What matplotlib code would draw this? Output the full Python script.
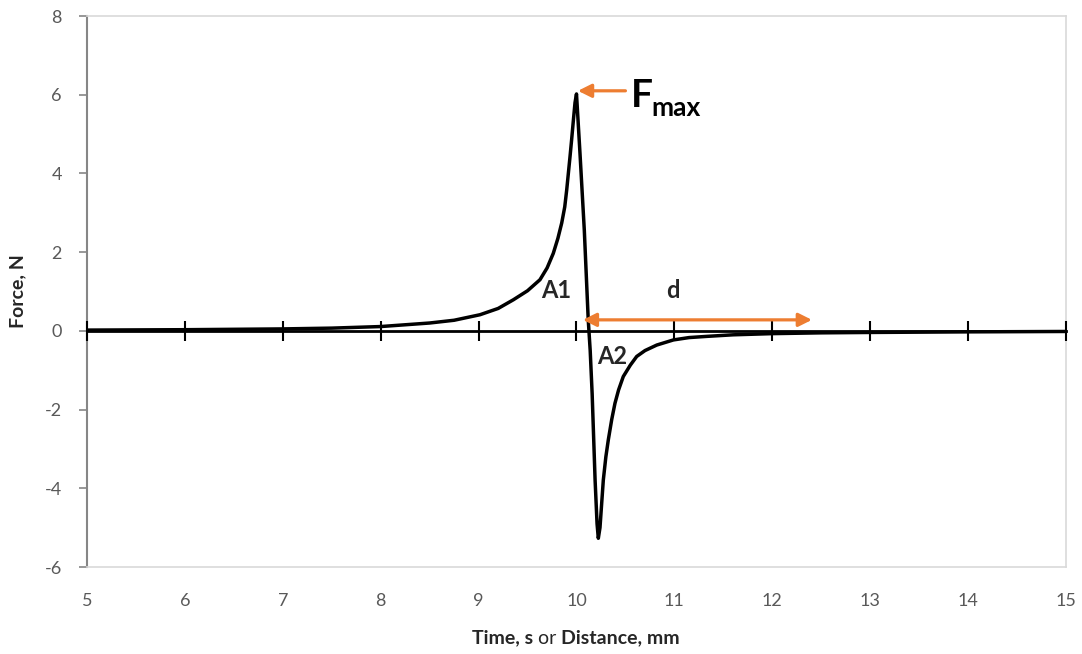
import numpy as np
import matplotlib
matplotlib.use("Agg")
import matplotlib.pyplot as plt
from matplotlib.offsetbox import TextArea, HPacker, AnnotationBbox

plt.rcParams['font.family'] = ['Lato', 'DejaVu Sans']
plt.rcParams['axes.unicode_minus'] = False

# force curve
x = [5.0, 6.0, 7.0, 7.5, 8.0, 8.5, 8.75, 9.014, 9.2, 9.355, 9.5, 9.627,
     9.7, 9.763, 9.81, 9.849, 9.88, 9.9, 9.934, 9.95, 9.97, 9.985, 10.0,
     10.036, 10.08, 10.12, 10.14, 10.16, 10.19, 10.21, 10.223,
     10.24, 10.274, 10.3, 10.325, 10.36, 10.393, 10.43, 10.478, 10.55,
     10.615, 10.7, 10.82, 10.99, 11.15, 11.33, 11.6, 12.0, 12.5, 13.0,
     14.0, 15.0]
force = [0.02, 0.03, 0.05, 0.07, 0.11, 0.2, 0.27, 0.41, 0.57, 0.79, 1.02,
         1.30, 1.6, 1.97, 2.35, 2.74, 3.15, 3.58, 4.43, 4.85, 5.4, 5.8, 6.02,
         4.5, 2.55, 0.28, -0.5, -1.6, -3.79, -4.9, -5.27, -5.0, -3.79,
         -3.2, -2.77, -2.25, -1.84, -1.5, -1.16, -0.87, -0.65, -0.5, -0.36,
         -0.23, -0.17, -0.14, -0.1, -0.07, -0.05, -0.04, -0.025, -0.015]

xticks = np.arange(5, 16, 1)
yticks = np.arange(-6, 9, 2)

orange = '#ED7D31'
tick_grey = '#595959'
title_col = '#262626'

fig = plt.figure(figsize=(10.82, 6.54), dpi=100)
ax = fig.add_axes([0.0804, 0.133, 0.9048, 0.8425])

ax.plot(x, force, color='black', lw=2.5, zorder=5, solid_joinstyle='round')

ax.set_xlim(5, 15)
ax.set_ylim(-6, 8)
ax.set_xticks(xticks)
ax.set_yticks(yticks)

for side in ['top', 'right', 'bottom']:
    ax.spines[side].set_color('#d9d9d9')
    ax.spines[side].set_linewidth(1.2)
ax.spines['left'].set_color('#868686')
ax.spines['left'].set_linewidth(1.5)

ax.tick_params(axis='x', length=0, pad=19, labelsize=13, labelcolor=tick_grey)
ax.tick_params(axis='y', length=6, width=1.2, color='#868686', direction='out',
               pad=12, labelsize=13, labelcolor=tick_grey)

# horizontal axis line through zero with crossing ticks
zero_ax = ax.secondary_xaxis(6 / 14)
zero_ax.set_xticks(xticks)
zero_ax.spines['bottom'].set_color('black')
zero_ax.spines['bottom'].set_linewidth(2.0)
zero_ax.tick_params(axis='x', direction='inout', length=14, width=1.5,
                    color='black', labelbottom=False)
zero_ax.set_zorder(4)

ax.set_ylabel('Force, N', fontsize=14, fontweight='bold', color=title_col)
ax.yaxis.set_label_coords(-0.062, 0.5)

# x label with mixed weights
parts = [TextArea('Time, s', textprops=dict(fontsize=14, fontweight='bold', color=title_col)),
         TextArea(' or ', textprops=dict(fontsize=14, color=title_col)),
         TextArea('Distance, mm', textprops=dict(fontsize=14, fontweight='bold', color=title_col))]
box = HPacker(children=parts, align='baseline', pad=0, sep=0)
ab = AnnotationBbox(box, (576 / 1082, 1 - 638 / 654), xycoords='figure fraction',
                    frameon=False, box_alignment=(0.5, 0.5))
fig.add_artist(ab)

# annotations
ax.annotate('', xy=(10.015, 6.1), xytext=(10.5, 6.1),
            arrowprops=dict(arrowstyle='-|>,head_length=0.8,head_width=0.4',
                            color=orange, lw=2.3, shrinkA=0, shrinkB=0), zorder=6)
ax.text(10.56, 5.7, 'F', fontsize=28, fontweight='bold', color='black',
        ha='left', va='baseline')
ax.text(10.77, 5.45, 'max', fontsize=19, fontweight='bold', color='black',
        ha='left', va='baseline')

ax.annotate('', xy=(10.065, 0.28), xytext=(12.405, 0.28),
            arrowprops=dict(arrowstyle='<|-|>,head_length=0.8,head_width=0.4',
                            color=orange, lw=2.3, shrinkA=0, shrinkB=0), zorder=6)

ax.text(9.795, 1.02, 'A1', fontsize=17, fontweight='bold', color=title_col,
        ha='center', va='center')
ax.text(10.98, 1.02, 'd', fontsize=17, fontweight='bold', color=title_col,
        ha='center', va='center')
ax.text(10.36, -0.64, 'A2', fontsize=17, fontweight='bold', color=title_col,
        ha='center', va='center')

fig.savefig('out.png', dpi=100)
